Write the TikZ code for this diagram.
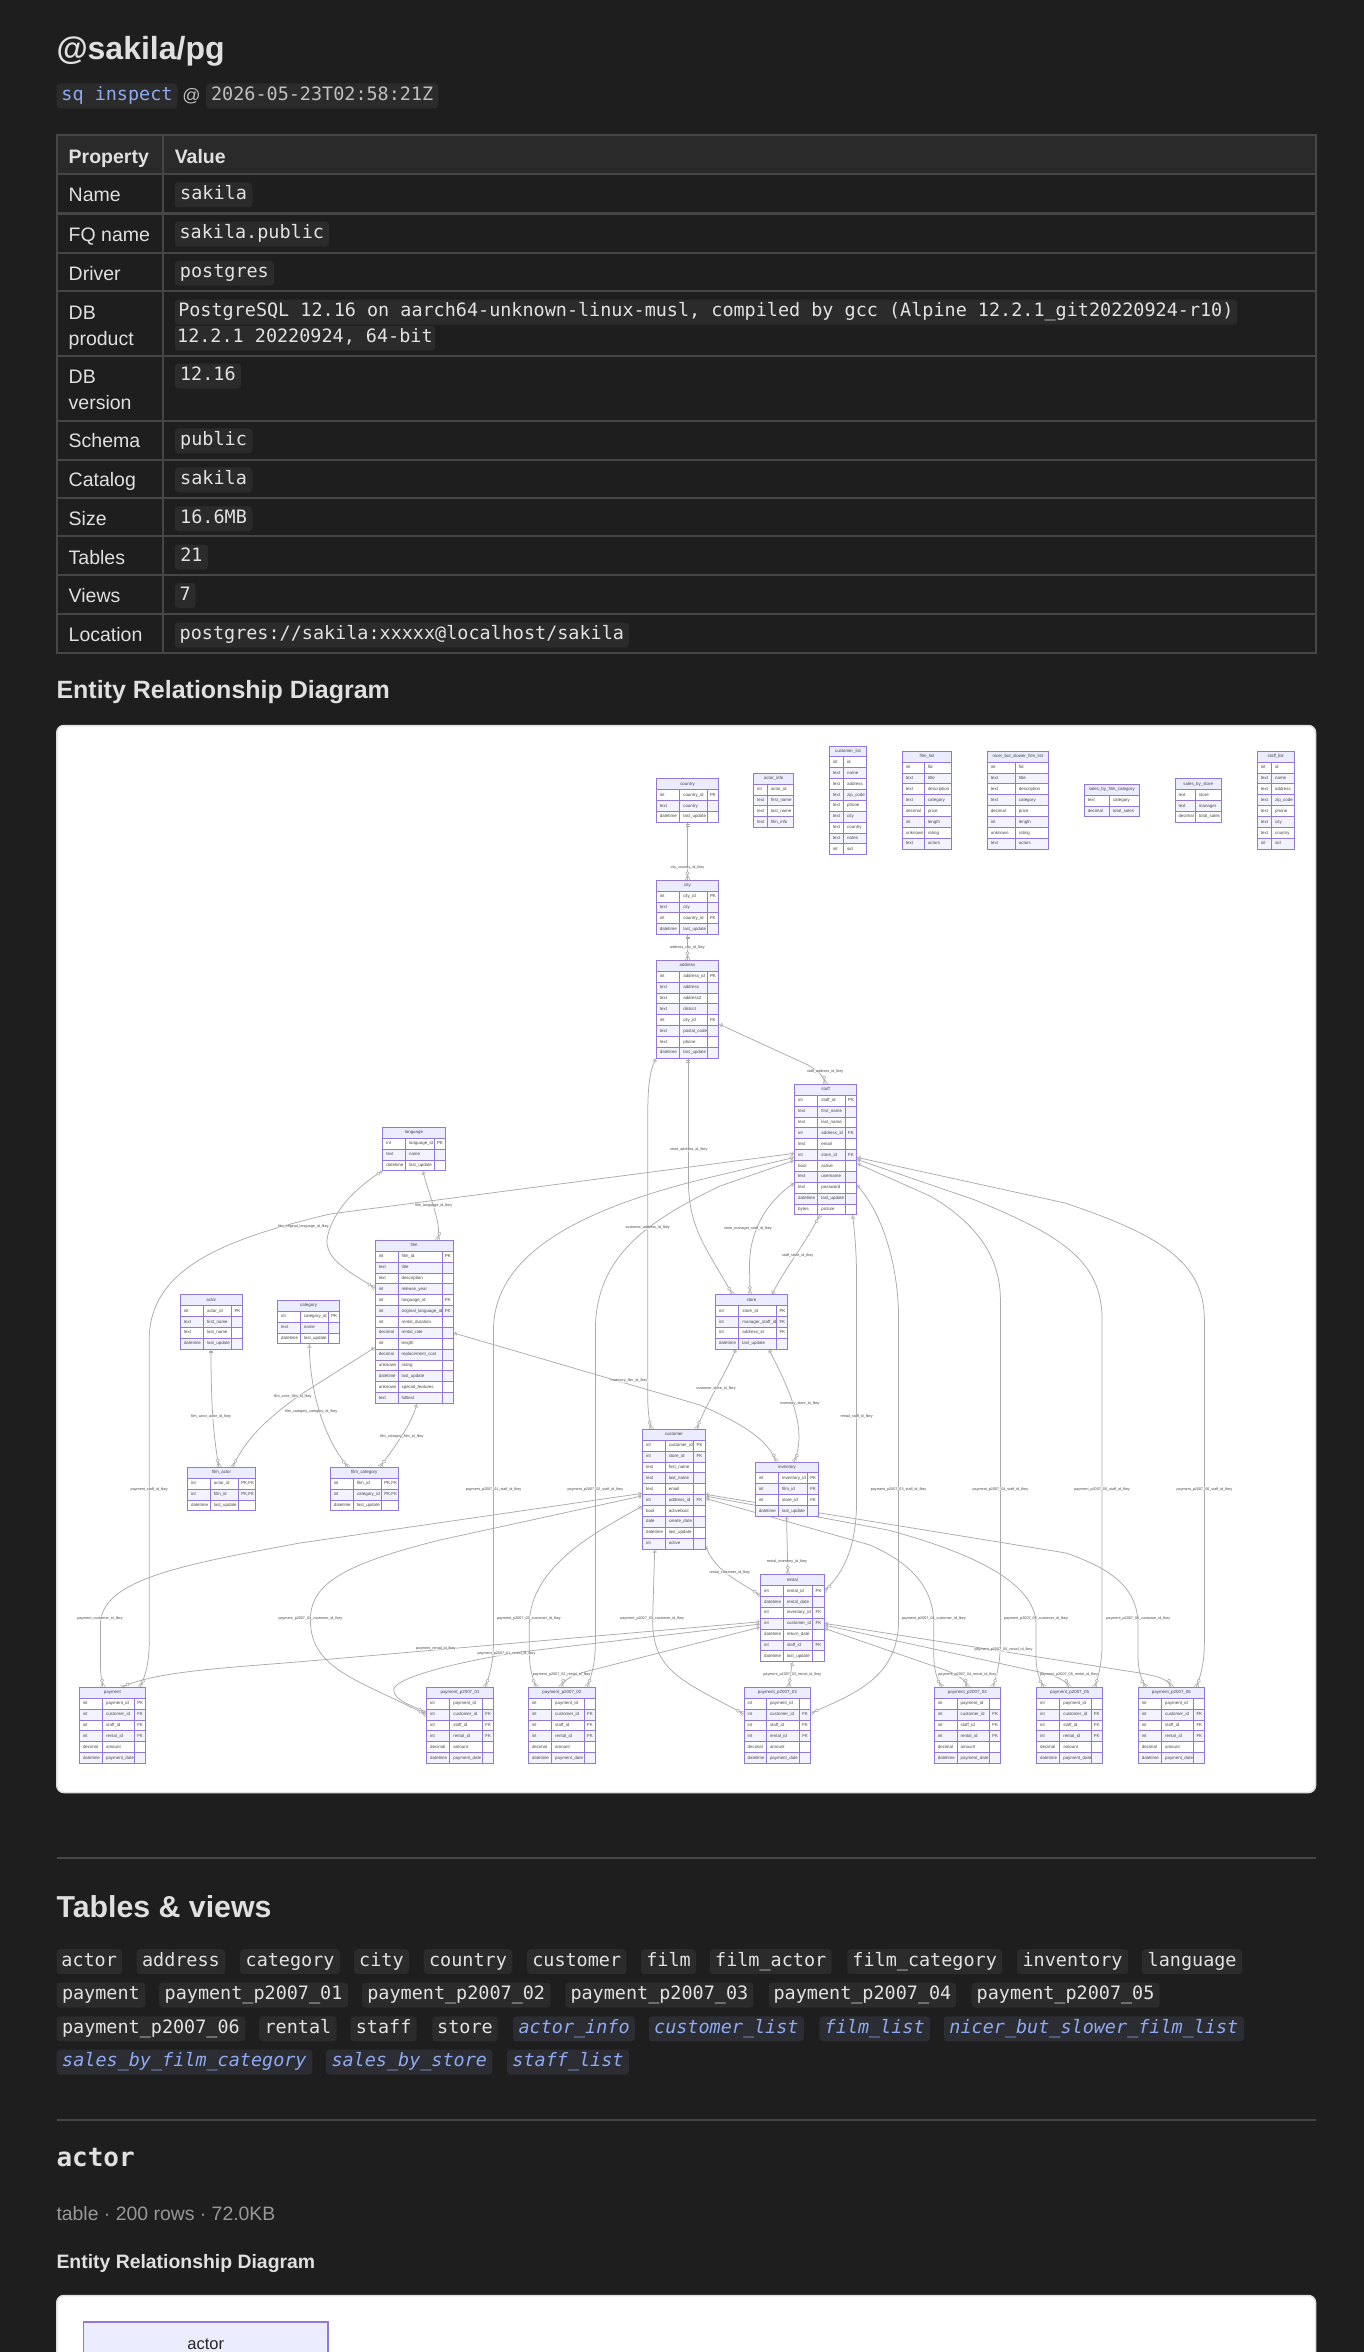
\documentclass[tikz,border=0pt]{standalone}
\usepackage{fontspec}
\setmainfont{Liberation Sans}
\setmonofont{DejaVu Sans Mono}
\usetikzlibrary{calc}
\definecolor{pagebg}{HTML}{1E1E1E}
\definecolor{headbg}{HTML}{2A2A2A}
\definecolor{rulec}{HTML}{464646}
\definecolor{chipbg}{HTML}{2B2B2B}
\definecolor{chiptxt}{HTML}{E2E2E2}
\definecolor{linkc}{HTML}{8FAAF2}
\definecolor{viewbg}{HTML}{2B2D33}
\definecolor{mainc}{HTML}{E0E0E0}
\definecolor{lav}{HTML}{ECECFF}
\definecolor{lavrow}{HTML}{F3F3FF}
\definecolor{purp}{HTML}{9378DC}
\definecolor{relc}{HTML}{ABABAB}
\definecolor{tblt}{HTML}{444444}
\pgfdeclarelayer{bg}
\pgfdeclarelayer{edges}
\pgfsetlayers{bg,edges,main}
\newcommand\fsz[1]{\fontsize{#1}{#1}\selectfont}
\newcommand\pf{PK,FK}
\newcommand\rowh{10.88}
\tikzset{
  ertbl/.style={draw=purp,line width=.9pt,inner sep=0pt,outer sep=0pt},
  cellt/.style={inner sep=0pt,outer sep=0pt,anchor=west,text=tblt,font=\fsz{4.4},text height=3.2pt,text depth=1pt},
  titlet/.style={inner sep=0pt,outer sep=0pt,text=tblt,font=\fsz{4.4},text height=3.2pt,text depth=1pt},
  elabel/.style={inner sep=.3pt,fill=white,fill opacity=.55,text opacity=1,text=tblt,font=\fsz{3.7}},
  rel/.style={draw=relc,line width=.75pt},
  relmark/.style={draw=relc,line width=.55pt,fill=white},
  relstart/.style={pos=0,sloped,allow upside down},
  relend/.style={pos=1,sloped,allow upside down},
  pics/oneend/.style={code={\draw[relmark] (2.2,-2)--(2.2,2) (3.6,-2)--(3.6,2);}},
  pics/zeroone/.style={code={\draw[relmark] (2.2,-2)--(2.2,2); \draw[relmark] (5.4,0) circle[radius=1.7];}},
  pics/manyend/.style={code={\draw[relmark,fill=none] (-5.4,0)--(0,2.4) (-5.4,0)--(0,-2.4); \draw[relmark] (-7,0) circle[radius=1.7];}},
  chipbox/.style={fill=chipbg,rounded corners=3.5pt,inner sep=0pt,outer sep=0pt,minimum height=25pt,text height=13.5pt,text depth=4pt,text=chiptxt,font=\ttfamily\fsz{18.45}},
  viewchip/.style={chipbox,fill=viewbg,text=linkc,font=\ttfamily\itshape\fsz{18.45}},
  rowlab/.style={inner sep=0pt,outer sep=0pt,anchor=base west,text=mainc,font=\fsz{19.5}},
  headb/.style={rowlab,font=\bfseries\fsz{19.5}},
  secthead/.style={inner sep=0pt,outer sep=0pt,anchor=base west,text=mainc},
  card/.style={fill=white,draw=white!88!black,line width=1.5pt,rounded corners=7pt},
}
% id, title, x0, x1, x2, x3, ytop, nrows, rows
\newcommand\ertable[9]{%
  \pgfmathsetmacro\tbw{#6-#3}%
  \pgfmathsetmacro\tbh{(#8+1)*\rowh}%
  \pgfmathsetmacro\xmid{(#3+#6)/2}%
  \pgfmathsetmacro\yhd{#7+\rowh/2}%
  \node[ertbl,fill=white,minimum width=\tbw pt,minimum height=\tbh pt,anchor=north west] (#1) at (#3,#7) {};
  \draw[ertbl,fill=lav] (#3,#7) rectangle (#6,#7+\rowh);
  \node[titlet] (#1-title) at (\xmid,\yhd) {#2};
  \foreach \ty/\nm/\ky [count=\ri] in {#9}{%
    \pgfmathsetmacro\ya{#7+\ri*\rowh}%
    \pgfmathsetmacro\yb{\ya+\rowh}%
    \pgfmathsetmacro\yc{\ya+\rowh/2}%
    \pgfmathtruncatemacro\isodd{mod(\ri,2)}%
    \ifnum\isodd=1
      \draw[ertbl,fill=white] (#3,\ya) rectangle (#6,\yb);
    \else
      \draw[ertbl,fill=lavrow] (#3,\ya) rectangle (#6,\yb);
    \fi
    \draw[ertbl] (#4,\ya) -- (#4,\yb);
    \pgfmathtruncatemacro\hastrd{(#6-#5)>0.5 ? 1 : 0}%
    \ifnum\hastrd=1 \draw[ertbl] (#5,\ya) -- (#5,\yb); \fi
    \node[cellt] (#1-\ri-t) at (#3+3.6,\yc) {\ty};
    \node[cellt] (#1-\ri-n) at (#4+3.6,\yc) {\nm};
    \ifnum\hastrd=1 \node[cellt] (#1-\ri-k) at (#5+2.8,\yc) {\ky}; \fi
  }%
}
% name, x1, x2, yc, style, text
\newcommand\chip[6]{%
  \pgfmathsetmacro\cw{(#3)-(#2)}%
  \pgfmathsetmacro\cx{((#3)+(#2))/2}%
  \node[#5,minimum width=\cw pt] (#1) at (\cx,#4) {#6};
}
% the same with zoomed x values
\newcommand\zchip[6]{\chip{#1}{(#2)/1.1496}{(#3)/1.1496}{#4}{#5}{#6}}
\newcommand\elab[4]{\node[elabel] (#1) at (#2,#3) {#4};}
\catcode`\_=12
\begin{document}
\begin{tikzpicture}[x=1pt,y=-1pt]
\useasboundingbox (0,0) rectangle (1364,2352);
\begin{pgfonlayer}{bg}
\fill[pagebg] (0,0) rectangle (1364,2352);
\end{pgfonlayer}

% ---------- heading
\node[secthead,font=\bfseries\fsz{32}] (title) at (56.5,59.5) {@sakila/pg};
\chip{cmd}{56.5}{177.5}{96}{chipbox,text=linkc}{sq inspect}
\node[inner sep=0pt,text=mainc!85!black,font=\fsz{18}] (atsign) at (191.4,96) {@};
\chip{stamp}{206}{438.4}{96}{chipbox,text=chiptxt!85!black}{2026-05-23T02:58:21Z}

% ---------- property table
\fill[pagebg] (56.5,135.4) rectangle (1316,652.9);
\fill[headbg] (56.5,135.4) rectangle (1316,174.5);
\draw[rulec,line width=2pt] (56.5,135.4) rectangle (1316,652.9);
\foreach \yy in {174.5,213.5,252.5,291.1,355.8,420.6,459.6,497.7,536.3,575.3,614.3}
  \draw[rulec,line width=2pt] (56.5,\yy) -- (1316,\yy);
\draw[rulec,line width=2pt] (162.7,135.4) -- (162.7,652.9);

\node[headb] (hprop) at (68.7,164) {Property};
\node[headb] (hval) at (174.8,164) {Value};
\node[rowlab] (lname) at (68.7,202) {Name};
\node[rowlab] (lfq) at (68.7,241) {FQ name};
\node[rowlab] (ldrv) at (68.7,280) {Driver};
\node[rowlab] (ldb1) at (68.7,319) {DB};
\node[rowlab] (ldb2) at (68.7,345) {product};
\node[rowlab] (lver1) at (68.7,383) {DB};
\node[rowlab] (lver2) at (68.7,409) {version};
\node[rowlab] (lsch) at (68.7,447.8) {Schema};
\node[rowlab] (lcat) at (68.7,486.8) {Catalog};
\node[rowlab] (lsiz) at (68.7,525.5) {Size};
\node[rowlab] (ltab) at (68.7,564) {Tables};
\node[rowlab] (lvie) at (68.7,602.5) {Views};
\node[rowlab] (lloc) at (68.7,641.5) {Location};

\chip{vname}{174.8}{252.3}{195}{chipbox}{sakila}
\chip{vfq}{174.8}{328.8}{234}{chipbox}{sakila.public}
\chip{vdrv}{174.8}{274}{273.2}{chipbox}{postgres}
\chip{vdb1}{174.8}{1237}{312.2}{chipbox}{PostgreSQL 12.16 on aarch64-unknown-linux-musl, compiled by gcc (Alpine 12.2.1_git20220924-r10)}
\chip{vdb2}{174.8}{435}{338}{chipbox}{12.2.1 20220924, 64-bit}
\chip{vver}{174.8}{241}{376}{chipbox}{12.16}
\chip{vsch}{174.8}{252.3}{440.8}{chipbox}{public}
\chip{vcat}{174.8}{252.3}{479.8}{chipbox}{sakila}
\chip{vsiz}{174.8}{252.3}{518.8}{chipbox}{16.6MB}
\chip{vtab}{174.8}{208}{557}{chipbox}{21}
\chip{vvie}{174.8}{195.7}{595.5}{chipbox}{7}
\chip{vloc}{174.8}{629}{635}{chipbox}{postgres://sakila:xxxxx@localhost/sakila}

\node[secthead,font=\bfseries\fsz{25}] (erhead) at (56.5,698.5) {Entity Relationship Diagram};

% ---------- ER card
\begin{pgfonlayer}{bg}
\draw[card] (56.8,725.5) rectangle (1315.5,1792.5);
\end{pgfonlayer}

\ertable{country}{country}{656.3}{679.7}{707.2}{718.7}{778.7}{3}{int/country_id/PK,text/country/,datetime/last_update/}
\ertable{city}{city}{656.3}{679.7}{707.2}{718.7}{880.3}{4}{int/city_id/PK,text/city/,int/country_id/FK,datetime/last_update/}
\ertable{address}{address}{656.3}{679.7}{707.2}{718.7}{960.3}{8}{int/address_id/PK,text/address/,text/address2/,text/district/,int/city_id/FK,text/postal_code/,text/phone/,datetime/last_update/}
\ertable{staff}{staff}{794.6}{817.8}{845.4}{856.6}{1084.3}{11}{int/staff_id/PK,text/first_name/,text/last_name/,int/address_id/FK,text/email/,int/store_id/FK,bool/active/,text/username/,text/password/,datetime/last_update/,bytes/picture/}
\ertable{actor_info}{actor_info}{753.6}{767.4}{793.6}{793.6}{773.3}{4}{int/actor_id/,text/first_name/,text/last_name/,text/film_info/}
\ertable{customer_list}{customer_list}{829.4}{843.6}{866.6}{866.6}{746}{9}{int/id/,text/name/,text/address/,text/zip_code/,text/phone/,text/city/,text/country/,text/notes/,int/sid/}
\ertable{film_list}{film_list}{902.4}{924.4}{951.5}{951.5}{751.3}{8}{int/fid/,text/title/,text/description/,text/category/,decimal/price/,int/length/,unknown/rating/,text/actors/}
\ertable{nicer_but_slower_film_list}{nicer_but_slower_film_list}{987.3}{1015.3}{1048.4}{1048.4}{751.3}{8}{int/fid/,text/title/,text/description/,text/category/,decimal/price/,int/length/,unknown/rating/,text/actors/}
\ertable{sales_by_film_category}{sales_by_film_category}{1084.2}{1109.4}{1139.3}{1139.3}{784.3}{2}{text/category/,decimal/total_sales/}
\ertable{sales_by_store}{sales_by_store}{1175}{1195.3}{1221.5}{1221.5}{778.7}{3}{text/store/,text/manager/,decimal/total_sales/}
\ertable{staff_list}{staff_list}{1257.3}{1271.5}{1294}{1294}{751.3}{8}{int/id/,text/name/,text/address/,text/zip_code/,text/phone/,text/city/,text/country/,int/sid/}
\ertable{language}{language}{382.8}{405.5}{434.2}{445.1}{1127.3}{3}{int/language_id/PK,text/name/,datetime/last_update/}
\ertable{film}{film}{375.2}{398}{442.2}{453.1}{1240.3}{14}{int/film_id/PK,text/title/,text/description/,int/release_year/,int/language_id/FK,int/original_language_id/FK,int/rental_duration/,decimal/rental_rate/,int/length/,decimal/replacement_cost/,unknown/rating/,datetime/last_update/,unknown/special_features/,text/fulltext/}
\ertable{actor}{actor}{180.4}{203.5}{231.7}{242.2}{1294.7}{4}{int/actor_id/PK,text/first_name/,text/last_name/,datetime/last_update/}
\ertable{category}{category}{277.6}{300.3}{328.5}{339.5}{1300.3}{3}{int/category_id/PK,text/name/,datetime/last_update/}
\ertable{film_actor}{film_actor}{187.5}{210.3}{238.5}{255.7}{1467.3}{3}{int/actor_id/\pf,int/film_id/\pf,datetime/last_update/}
\ertable{film_category}{film_category}{330.2}{353.4}{381.5}{398.4}{1467.3}{3}{int/film_id/\pf,int/category_id/\pf,datetime/last_update/}
\ertable{store}{store}{715.5}{738.8}{776.7}{787.4}{1294.7}{4}{int/store_id/PK,int/manager_staff_id/FK,int/address_id/FK,datetime/last_update/}
\ertable{customer}{customer}{642.5}{665.2}{693.8}{705.2}{1429.3}{10}{int/customer_id/PK,int/store_id/FK,text/first_name/,text/last_name/,text/email/,int/address_id/FK,bool/activebool/,date/create_date/,datetime/last_update/,int/active/}
\ertable{inventory}{inventory}{755.3}{778.5}{807.5}{818.7}{1462}{4}{int/inventory_id/PK,int/film_id/FK,int/store_id/FK,datetime/last_update/}
\ertable{rental}{rental}{760.6}{783.4}{812.9}{824}{1574.7}{7}{int/rental_id/PK,datetime/rental_date/,int/inventory_id/FK,int/customer_id/FK,datetime/return_date/,int/staff_id/FK,datetime/last_update/}
\ertable{payment}{payment}{79.4}{102.5}{134.5}{145.4}{1687.3}{6}{int/payment_id/PK,int/customer_id/FK,int/staff_id/FK,int/rental_id/FK,decimal/amount/,datetime/payment_date/}
\ertable{p01}{payment_p2007_01}{426.6}{449.7}{482.6}{493.5}{1687.3}{6}{int/payment_id/,int/customer_id/FK,int/staff_id/FK,int/rental_id/FK,decimal/amount/,datetime/payment_date/}
\ertable{p02}{payment_p2007_02}{528.4}{551.6}{584.4}{595.4}{1687.3}{6}{int/payment_id/,int/customer_id/FK,int/staff_id/FK,int/rental_id/FK,decimal/amount/,datetime/payment_date/}
\ertable{p03}{payment_p2007_03}{744.1}{766.4}{799.5}{810.6}{1687.3}{6}{int/payment_id/,int/customer_id/FK,int/staff_id/FK,int/rental_id/FK,decimal/amount/,datetime/payment_date/}
\ertable{p04}{payment_p2007_04}{934.3}{957}{989.6}{1000.4}{1687.3}{6}{int/payment_id/,int/customer_id/FK,int/staff_id/FK,int/rental_id/FK,decimal/amount/,datetime/payment_date/}
\ertable{p05}{payment_p2007_05}{1036.5}{1059.7}{1091}{1102.6}{1687.3}{6}{int/payment_id/,int/customer_id/FK,int/staff_id/FK,int/rental_id/FK,decimal/amount/,datetime/payment_date/}
\ertable{p06}{payment_p2007_06}{1138.3}{1161.5}{1193.7}{1204.4}{1687.3}{6}{int/payment_id/,int/customer_id/FK,int/staff_id/FK,int/rental_id/FK,decimal/amount/,datetime/payment_date/}

% ---------- relationships
\begin{pgfonlayer}{edges}
\draw[rel] (country.south) -- (city.north) pic[relstart]{oneend} pic[relend]{manyend};
\draw[rel] (city.south) -- (address.north) pic[relstart]{oneend} pic[relend]{manyend};
\draw[rel] ([shift={(62.4,63.7)}]address.north west) -- (808,1065) pic[relstart]{oneend} .. controls (818,1071) and (824,1076) .. ([shift={(30.7,0)}]staff.north west) pic[relend]{manyend};
\draw[rel] (address.south west) .. controls (649,1070) and (647.7,1090) .. (647.7,1120) pic[relstart]{oneend} -- (647.7,1395) .. controls (647.7,1410) and (649,1420) .. ([shift={(8.8,0)}]customer.north west) pic[relend]{manyend};
\draw[rel] ([shift={(32.1,97.9)}]address.north west) -- (688.4,1180) pic[relstart]{oneend} .. controls (688.4,1230) and (708,1250) .. ([shift={(17,0)}]store.north west) pic[relend]{manyend};
\draw[rel] ([shift={(0,98.4)}]staff.north west) .. controls (768,1200) and (749.5,1230) .. (749.5,1265) pic[relstart]{oneend} -- ([shift={(34.4,0)}]store.north west) pic[relend]{manyend};
\draw[rel] ([shift={(56.3,0)}]store.north west) .. controls (785,1268) and (808,1240) .. ([shift={(25,130.6)}]staff.north west) pic[relstart]{oneend} pic[relend]{manyend};
\draw[rel] ([shift={(58,130.6)}]staff.north west) .. controls (855,1235) and (856.6,1255) .. (856.6,1280) pic[relstart]{oneend} -- (856.6,1500) .. controls (856.6,1545) and (845,1572) .. ([shift={(63.4,16.5)}]rental.north west) pic[relend]{manyend};
\draw[rel] ([shift={(62,100.4)}]staff.north west) .. controls (880,1210) and (898.6,1260) .. (898.6,1320) pic[relstart]{oneend} -- (898.6,1620) .. controls (898.6,1680) and (850,1695) .. ([shift={(66.5,26)}]p03.north west) pic[relend]{manyend};
\draw[rel] ([shift={(62,79)}]staff.north west) -- (930,1196) pic[relstart]{oneend} .. controls (980,1225) and (1000.4,1260) .. (1000.4,1300) -- (1000.4,1640) .. controls (1000.4,1660) and (998,1672) .. ([shift={(58.5,0)}]p04.north west) pic[relend]{manyend};
\draw[rel] ([shift={(62,75)}]staff.north west) -- (975,1200) pic[relstart]{oneend} .. controls (1060,1235) and (1102.1,1260) .. (1102.1,1320) -- (1102.1,1640) .. controls (1102.1,1660) and (1100,1672) .. ([shift={(58.1,0)}]p05.north west) pic[relend]{manyend};
\draw[rel] ([shift={(62,73)}]staff.north west) -- (1065,1203) pic[relstart]{oneend} .. controls (1160,1235) and (1204.4,1262) .. (1204.4,1320) -- (1204.4,1640) .. controls (1204.4,1660) and (1202,1672) .. ([shift={(58,0)}]p06.north west) pic[relend]{manyend};
\draw[rel] ([shift={(0,69)}]staff.north west) -- (330,1214) pic[relstart]{oneend} .. controls (220,1240) and (149.2,1270) .. (149.2,1340) -- (149.2,1640) .. controls (149.2,1660) and (147,1672) .. ([shift={(60.6,0)}]payment.north west) pic[relend]{manyend};
\draw[rel] ([shift={(0,73)}]staff.north west) -- (720,1175) pic[relstart]{oneend} .. controls (590,1205) and (493.5,1250) .. (493.5,1330) -- (493.5,1640) .. controls (493.5,1660) and (491,1672) .. ([shift={(58.4,0)}]p01.north west) pic[relend]{manyend};
\draw[rel] ([shift={(0,76)}]staff.north west) -- (720,1186) pic[relstart]{oneend} .. controls (650,1220) and (595.4,1255) .. (595.4,1330) -- (595.4,1640) .. controls (595.4,1660) and (593,1672) .. ([shift={(58.6,0)}]p02.north west) pic[relend]{manyend};
\draw[rel] ([shift={(40,43.5)}]language.north west) .. controls (432,1205) and (442,1225) .. ([shift={(62.3,0)}]film.north west) pic[relstart]{oneend} pic[relend]{manyend};
\draw[rel] ([shift={(0,43.5)}]language.north west) .. controls (335,1200) and (325,1235) .. (327.3,1245) pic[relstart]{zeroone} .. controls (330,1262) and (350,1272) .. ([shift={(0,48)}]film.north west) pic[relend]{manyend};
\draw[rel] ([shift={(30.6,54.4)}]actor.north west) .. controls (211,1390) and (212,1430) .. ([shift={(31.5,0)}]film_actor.north west) pic[relstart]{oneend} pic[relend]{manyend};
\draw[rel] ([shift={(0,107)}]film.north west) -- (300,1395) pic[relstart]{oneend} .. controls (265,1420) and (245,1440) .. ([shift={(45.1,0)}]film_actor.north west) pic[relend]{manyend};
\draw[rel] ([shift={(31.6,43.5)}]category.north west) .. controls (310,1395) and (325,1440) .. ([shift={(18.1,0)}]film_category.north west) pic[relstart]{oneend} pic[relend]{manyend};
\draw[rel] ([shift={(41.7,163.2)}]film.north west) .. controls (412,1425) and (392,1450) .. ([shift={(49.7,0)}]film_category.north west) pic[relstart]{oneend} pic[relend]{manyend};
\draw[rel] ([shift={(77.9,92.5)}]film.north west) -- (700,1405) pic[relstart]{oneend} .. controls (745,1425) and (768,1440) .. ([shift={(21,0)}]inventory.north west) pic[relend]{manyend};
\draw[rel] ([shift={(20.5,54.4)}]store.north west) .. controls (725,1375) and (705,1405) .. ([shift={(54.3,0)}]customer.north west) pic[relstart]{oneend} pic[relend]{manyend};
\draw[rel] ([shift={(53.2,54.4)}]store.north west) .. controls (790,1390) and (808,1430) .. ([shift={(38.7,0)}]inventory.north west) pic[relstart]{oneend} pic[relend]{manyend};
\draw[rel] ([shift={(31.2,54.4)}]inventory.north west) -- ([shift={(27.3,0)}]rental.north west) pic[relstart]{oneend} pic[relend]{manyend};
\draw[rel] ([shift={(62.7,116)}]customer.north west) .. controls (715,1572) and (738,1580) .. ([shift={(0,21)}]rental.north west) pic[relstart]{oneend} pic[relend]{manyend};
\draw[rel] ([shift={(0,64)}]customer.north west) -- (300,1543) pic[relstart]{oneend} .. controls (180,1565) and (100.4,1580) .. (100.4,1625) -- (100.4,1665) .. controls (100.4,1675) and (102,1680) .. ([shift={(23.5,0)}]payment.north west) pic[relend]{manyend};
\draw[rel] ([shift={(0,66.5)}]customer.north west) -- (440,1540) pic[relstart]{oneend} .. controls (340,1565) and (310.4,1585) .. (310.4,1620) .. controls (310.4,1670) and (360,1680) .. ([shift={(0,27.7)}]p01.north west) pic[relend]{manyend};
\draw[rel] ([shift={(0,76.7)}]customer.north west) .. controls (600,1530) and (529.3,1565) .. (529.3,1625) pic[relstart]{oneend} -- (529.3,1650) .. controls (529.3,1665) and (531,1675) .. ([shift={(8,0)}]p02.north west) pic[relend]{manyend};
\draw[rel] ([shift={(12.2,119.7)}]customer.north west) -- (652.6,1620) pic[relstart]{oneend} .. controls (652.6,1670) and (680,1680) .. ([shift={(0,26.7)}]p03.north west) pic[relend]{manyend};
\draw[rel] ([shift={(62.7,69)}]customer.north west) -- (870,1545) pic[relstart]{oneend} .. controls (915,1565) and (933.8,1590) .. (933.8,1625) -- (933.8,1655) .. controls (933.8,1668) and (936,1678) .. ([shift={(8,0)}]p04.north west) pic[relend]{manyend};
\draw[rel] ([shift={(62.7,66.7)}]customer.north west) -- (888,1530) pic[relstart]{oneend} .. controls (980,1555) and (1036,1585) .. (1036,1625) -- (1036,1655) .. controls (1036,1668) and (1038,1678) .. ([shift={(7.5,0)}]p05.north west) pic[relend]{manyend};
\draw[rel] ([shift={(62.7,65)}]customer.north west) -- (1066,1553) pic[relstart]{oneend} .. controls (1115,1570) and (1138,1590) .. (1138,1625) -- (1138,1655) .. controls (1138,1668) and (1140,1678) .. ([shift={(7.7,0)}]p06.north west) pic[relend]{manyend};
\draw[rel] ([shift={(0,47)}]rental.north west) -- (320,1660) pic[relstart]{oneend} .. controls (230,1668) and (160,1670) .. ([shift={(41.6,0)}]payment.north west) pic[relend]{manyend};
\draw[rel] ([shift={(0,49.3)}]rental.north west) -- (520,1652) pic[relstart]{oneend} .. controls (440,1665) and (393,1680) .. (393.8,1690) .. controls (394,1700) and (410,1705) .. ([shift={(0,25)}]p01.north west) pic[relend]{manyend};
\draw[rel] ([shift={(0,52.3)}]rental.north west) -- (600,1668) pic[relstart]{oneend} .. controls (580,1673) and (565,1676) .. ([shift={(32.6,0)}]p02.north west) pic[relend]{manyend};
\draw[rel] ([shift={(31.7,87)}]rental.north west) -- ([shift={(44.7,0)}]p03.north west) pic[relstart]{oneend} pic[relend]{manyend};
\draw[rel] ([shift={(63.4,53.5)}]rental.north west) -- (945,1670) pic[relstart]{oneend} .. controls (955,1674) and (965,1678) .. ([shift={(33,0)}]p04.north west) pic[relend]{manyend};
\draw[rel] ([shift={(63.4,50.3)}]rental.north west) -- (1030,1670) pic[relstart]{oneend} .. controls (1050,1674) and (1065,1678) .. ([shift={(32.5,0)}]p05.north west) pic[relend]{manyend};
\draw[rel] ([shift={(63.4,48.6)}]rental.north west) -- (1140,1673) pic[relstart]{oneend} .. controls (1155,1676) and (1168,1678) .. ([shift={(33,0)}]p06.north west) pic[relend]{manyend};
\end{pgfonlayer}

% ---------- relationship labels
\elab{e01}{687.5}{867.7}{city_country_id_fkey}
\elab{e02}{687.5}{947.7}{address_city_id_fkey}
\elab{e03}{825.2}{1071.3}{staff_address_id_fkey}
\elab{e04}{647.7}{1227.7}{customer_address_id_fkey}
\elab{e05}{688.75}{1149.7}{store_address_id_fkey}
\elab{e06}{748}{1228.3}{store_manager_staff_id_fkey}
\elab{e07}{797.7}{1256}{staff_store_id_fkey}
\elab{e08}{856.6}{1416.7}{rental_staff_id_fkey}
\elab{e09}{898.6}{1489.3}{payment_p2007_03_staff_id_fkey}
\elab{e10}{1000.4}{1489.3}{payment_p2007_04_staff_id_fkey}
\elab{e11}{1102.1}{1489.3}{payment_p2007_05_staff_id_fkey}
\elab{e12}{1204.4}{1489.3}{payment_p2007_06_staff_id_fkey}
\elab{e13}{149.2}{1489.3}{payment_staff_id_fkey}
\elab{e14}{493.5}{1489.3}{payment_p2007_01_staff_id_fkey}
\elab{e15}{595.4}{1489.3}{payment_p2007_02_staff_id_fkey}
\elab{e16}{433.7}{1205.7}{film_language_id_fkey}
\elab{e17}{303.3}{1226.7}{film_original_language_id_fkey}
\elab{e18}{211}{1416.7}{film_actor_actor_id_fkey}
\elab{e19}{292.7}{1396.3}{film_actor_film_id_fkey}
\elab{e20}{311.3}{1411.7}{film_category_category_id_fkey}
\elab{e21}{401.8}{1436.7}{film_category_film_id_fkey}
\elab{e22}{629}{1381}{inventory_film_id_fkey}
\elab{e23}{716}{1389}{customer_store_id_fkey}
\elab{e24}{800}{1403.3}{inventory_store_id_fkey}
\elab{e25}{787}{1562}{rental_inventory_id_fkey}
\elab{e26}{729.8}{1572.7}{rental_customer_id_fkey}
\elab{e27}{100}{1618.3}{payment_customer_id_fkey}
\elab{e28}{310.4}{1618.3}{payment_p2007_01_customer_id_fkey}
\elab{e29}{528.9}{1618.3}{payment_p2007_02_customer_id_fkey}
\elab{e30}{652.2}{1618.3}{payment_p2007_03_customer_id_fkey}
\elab{e31}{933.8}{1618.3}{payment_p2007_04_customer_id_fkey}
\elab{e32}{1036}{1618.3}{payment_p2007_05_customer_id_fkey}
\elab{e33}{1138.3}{1618.3}{payment_p2007_06_customer_id_fkey}
\elab{e34}{435.8}{1648.3}{payment_rental_id_fkey}
\elab{e35}{506.5}{1654}{payment_p2007_01_rental_id_fkey}
\elab{e36}{561.7}{1674.7}{payment_p2007_02_rental_id_fkey}
\elab{e37}{792.3}{1674.7}{payment_p2007_03_rental_id_fkey}
\elab{e38}{967.3}{1674.7}{payment_p2007_04_rental_id_fkey}
\elab{e39}{1069}{1674.7}{payment_p2007_05_rental_id_fkey}
\elab{e40}{1003.5}{1649.7}{payment_p2007_06_rental_id_fkey}

% ---------- tables & views
\draw[rulec,line width=2.4pt] (56.5,1858) -- (1316,1858);
\node[secthead,font=\bfseries\fsz{30.3}] (tvhead) at (56.5,1917.5) {Tables \& views};
\zchip{c01}{65}{140}{1961.7}{chipbox}{actor}
\zchip{c02}{157}{259}{1961.7}{chipbox}{address}
\zchip{c03}{276}{391}{1961.7}{chipbox}{category}
\zchip{c04}{407}{470}{1961.7}{chipbox}{city}
\zchip{c05}{487}{589}{1961.7}{chipbox}{country}
\zchip{c06}{606}{720}{1961.7}{chipbox}{customer}
\zchip{c07}{737}{800}{1961.7}{chipbox}{film}
\zchip{c08}{816}{956}{1961.7}{chipbox}{film_actor}
\zchip{c09}{974}{1152}{1961.7}{chipbox}{film_category}
\zchip{c10}{1169}{1297}{1961.7}{chipbox}{inventory}
\zchip{c11}{1313}{1428}{1961.7}{chipbox}{language}
\zchip{c12}{65}{167}{1995}{chipbox}{payment}
\zchip{c13}{183}{400}{1995}{chipbox}{payment_p2007_01}
\zchip{c14}{416}{633}{1995}{chipbox}{payment_p2007_02}
\zchip{c15}{650}{866}{1995}{chipbox}{payment_p2007_03}
\zchip{c16}{884}{1099}{1995}{chipbox}{payment_p2007_04}
\zchip{c17}{1117}{1333}{1995}{chipbox}{payment_p2007_05}
\zchip{c18}{65}{282}{2028.8}{chipbox}{payment_p2007_06}
\zchip{c19}{298}{387}{2028.8}{chipbox}{rental}
\zchip{c20}{403}{479}{2028.8}{chipbox}{staff}
\zchip{c21}{497}{572}{2028.8}{chipbox}{store}
\zchip{c22}{590}{730}{2028.8}{viewchip}{actor_info}
\zchip{c23}{746}{924}{2028.8}{viewchip}{customer_list}
\zchip{c24}{942}{1069}{2028.8}{viewchip}{film_list}
\zchip{c25}{1085}{1430}{2028.8}{viewchip}{nicer_but_slower_film_list}
\zchip{c26}{65}{359}{2062}{viewchip}{sales_by_film_category}
\zchip{c27}{375}{566}{2062}{viewchip}{sales_by_store}
\zchip{c28}{583}{723}{2062}{viewchip}{staff_list}

\draw[rulec,line width=2pt] (56.5,2119.6) -- (1316,2119.6);
\node[secthead,font=\ttfamily\bfseries\fsz{26}] (acth) at (56.5,2166) {actor};
\node[secthead,text=mainc!68!black,font=\fsz{19.4}] (actsub) at (56.5,2220) {table · 200 rows · 72.0KB};
\node[secthead,font=\bfseries\fsz{19.4}] (acter) at (56.5,2268) {Entity Relationship Diagram};

\begin{pgfonlayer}{bg}
\draw[card] (56.8,2295.5) rectangle (1315.5,2400);
\end{pgfonlayer}
\node[draw=purp,line width=1.6pt,fill=lav,inner sep=0pt,outer sep=0pt,anchor=north west,minimum width=244.5pt,minimum height=60pt] (actorbox) at (83.5,2322) {};
\node[inner sep=0pt,text=black!85,font=\fsz{16.5}] (actorname) at (205.7,2344) {actor};
\end{tikzpicture}
\end{document}
